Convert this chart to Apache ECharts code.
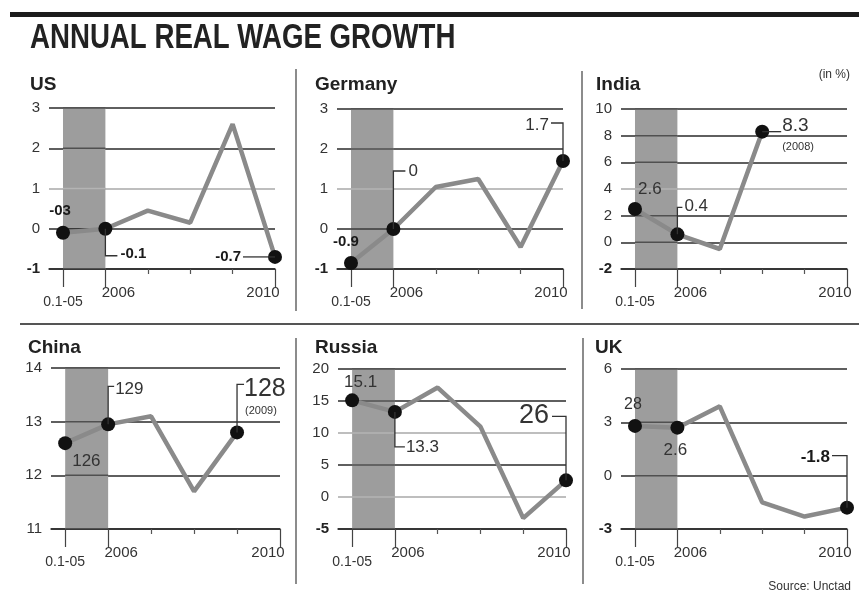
<!DOCTYPE html>
<html><head><meta charset="utf-8">
<script src="https://cdn.jsdelivr.net/npm/echarts@6/dist/echarts.min.js"></script>
<style>html,body{margin:0;padding:0;background:#fff}#c{width:859px;height:594px}</style>
</head><body><div id="c"></div>
<script>
// ---------- data ----------
const xLabels = ['0.1-05', '2006', '2007', '2008', '2009', '2010'];
const labelledTicks = [0, 1, 5];
const minorTicks = [2, 3, 4];
const shadedSpan = [0, 1];   // 2001-05 average .. 2006

const usValues      = [-0.1, 0.0, 0.45, 0.15, 2.6, -0.7];
const germanyValues = [-0.85, 0.0, 1.05, 1.25, -0.45, 1.7];
const indiaValues   = [2.5, 0.6, -0.5, 8.3, null, null];
const chinaValues   = [12.6, 12.95, 13.1, 11.7, 12.8, null];
const russiaValues  = [15.1, 13.3, 17.1, 11.0, -3.3, 2.6];
const ukValues      = [2.8, 2.7, 3.9, -1.5, -2.3, -1.8];

const usDots = [0, 1, 5];
const germanyDots = [0, 1, 5];
const indiaDots = [0, 1, 3];
const chinaDots = [0, 1, 4];
const russiaDots = [0, 1, 5];
const ukDots = [0, 1, 5];

const usNotes = ['-03', '-0.1', '-0.7'];
const germanyNotes = ['-0.9', '0', '1.7'];
const indiaNotes = ['2.6', '0.4', '8.3'];
const chinaNotes = ['126', '129', '128'];
const russiaNotes = ['15.1', '13.3', '26'];
const ukNotes = ['28', '2.6', '-1.8'];
const indiaSub = '(2008)';
const chinaSub = '(2009)';

const usAxis = {min: -1, max: 3, interval: 1};
const germanyAxis = {min: -1, max: 3, interval: 1};
const indiaAxis = {min: -2, max: 10, interval: 2};
const chinaAxis = {min: 11, max: 14, interval: 1};
const russiaAxis = {min: -5, max: 20, interval: 5};
const ukAxis = {min: -3, max: 6, interval: 3};

const panelTitles = ['US', 'Germany', 'India', 'China', 'Russia', 'UK'];

// ---------- layout / style (not data) ----------
const FONT = "'Liberation Sans', Arial, sans-serif";
const DARK = '#2a2a2a', LIGHT = '#a8a8a8', SHADE = '#9d9d9d';
const grids = [
  {left: 49, top: 108, width: 226, height: 161},
  {left: 337, top: 109, width: 226, height: 160},
  {left: 621, top: 109, width: 226, height: 160},
  {left: 51, top: 368, width: 229, height: 161},
  {left: 338, top: 369, width: 228, height: 160},
  {left: 621, top: 369, width: 226, height: 160}
];
const splitColors = [
  [DARK, DARK, LIGHT, DARK, DARK],
  [DARK, DARK, LIGHT, DARK, DARK],
  [DARK, DARK, DARK, LIGHT, DARK, DARK, DARK],
  [DARK, DARK, DARK, DARK],
  [DARK, LIGHT, DARK, LIGHT, DARK, DARK],
  [DARK, DARK, DARK, DARK]
];
const shadeLineColors = [
  ['#3a3a3a', '#3a3a3a', '#b4b4b4', '#505050', '#505050'],
  ['#3a3a3a', '#3a3a3a', '#b4b4b4', '#505050', '#505050'],
  ['#3a3a3a', '#505050', '#505050', '#b4b4b4', '#505050', '#505050', '#505050'],
  ['#3a3a3a', '#505050', '#505050', '#505050'],
  ['#3a3a3a', '#b4b4b4', '#505050', '#b4b4b4', '#505050', '#505050'],
  ['#3a3a3a', '#505050', '#505050', '#505050']
];
const noteLayouts = [
  [ {dx: -3, dy: -22, align: 'center', size: 15, bold: true},
    {dx: 15, dy: 25, align: 'left', size: 15, bold: true, path: [[0, 0], [0, 27], [12, 27]]},
    {dx: -34, dy: 0, align: 'right', size: 15, bold: true, path: [[0, 0], [-32, 0]]} ],
  [ {dx: -5, dy: -21, align: 'center', size: 15, bold: true},
    {dx: 15, dy: -58, align: 'left', size: 17, path: [[0, 0], [0, -58], [12, -58]]},
    {dx: -14, dy: -36, align: 'right', size: 17, path: [[0, 0], [0, -38], [-12, -38]]} ],
  [ {dx: 3, dy: -20, align: 'left', size: 17},
    {dx: 7, dy: -28, align: 'left', size: 17, path: [[0, 0], [0, -27], [5, -27]]},
    {dx: 20, dy: -6, align: 'left', size: 19, path: [[0, 0], [19, 0]], sub: {dx: 20, dy: 15, size: 11}} ],
  [ {dx: 7, dy: 18, align: 'left', size: 17},
    {dx: 7, dy: -35, align: 'left', size: 17, path: [[0, 0], [0, -38], [6, -38]]},
    {dx: 7, dy: -43, align: 'left', size: 25, path: [[0, 0], [0, -48], [7, -48]], sub: {dx: 8, dy: -21, size: 11}} ],
  [ {dx: -8, dy: -18, align: 'left', size: 17},
    {dx: 11, dy: 35, align: 'left', size: 17, path: [[0, 0], [0, 35], [10, 35]]},
    {dx: -17, dy: -65, align: 'right', size: 27, path: [[0, 0], [0, -64], [-14, -64]]} ],
  [ {dx: -2, dy: -21, align: 'center', size: 16},
    {dx: -2, dy: 23, align: 'center', size: 17},
    {dx: -17, dy: -50, align: 'right', size: 17, bold: true, path: [[0, 0], [0, -52], [-15, -52]]} ]
];

const panels = [
  {values: usValues, dots: usDots, notes: usNotes, axis: usAxis},
  {values: germanyValues, dots: germanyDots, notes: germanyNotes, axis: germanyAxis},
  {values: indiaValues, dots: indiaDots, notes: indiaNotes, axis: indiaAxis, sub: indiaSub},
  {values: chinaValues, dots: chinaDots, notes: chinaNotes, axis: chinaAxis, sub: chinaSub},
  {values: russiaValues, dots: russiaDots, notes: russiaNotes, axis: russiaAxis},
  {values: ukValues, dots: ukDots, notes: ukNotes, axis: ukAxis}
];

const option = {
  backgroundColor: '#fff',
  animation: false,
  textStyle: {fontFamily: FONT},
  grid: grids.map(g => Object.assign({containLabel: false}, g)),
  xAxis: [], yAxis: [], series: [],
  graphic: []
};

panels.forEach((p, k) => {
  option.xAxis.push({
    type: 'value', gridIndex: k, min: -0.33, max: 5, position: 'bottom',
    axisLine: {onZero: false, lineStyle: {color: DARK, width: 1.5}},
    axisTick: {show: true, customValues: labelledTicks, length: 18, lineStyle: {color: '#444', width: 1.2}},
    axisLabel: {
      customValues: labelledTicks, margin: 16, color: '#333', fontSize: 15, fontFamily: FONT,
      formatter: v => {
        const t = xLabels[Math.round(v)];
        if (v === 0) return '{a|' + t + '}';
        if (v === 1) return '{b|' + t + '}';
        return '{c|' + t + '}';
      },
      rich: {
        a: {fontSize: 14, padding: [10, 0, 0, 0], color: '#333', fontFamily: FONT},
        b: {fontSize: 15, padding: [0, 0, 0, 26], color: '#333', fontFamily: FONT},
        c: {fontSize: 15, padding: [0, 24, 0, 0], color: '#333', fontFamily: FONT}
      }
    },
    splitLine: {show: false}
  });
  option.xAxis.push({
    type: 'value', gridIndex: k, min: -0.33, max: 5, position: 'bottom', offset: 0,
    axisLine: {show: false, onZero: false},
    axisTick: {show: true, customValues: minorTicks, length: 5, lineStyle: {color: '#555', width: 1.2}},
    axisLabel: {show: false},
    splitLine: {show: false}
  });
  option.yAxis.push({
    type: 'value', gridIndex: k, min: p.axis.min, max: p.axis.max, interval: p.axis.interval,
    axisLine: {show: false}, axisTick: {show: false},
    axisLabel: {
      margin: 9, color: '#333', fontSize: 15, fontFamily: FONT,
      formatter: v => v < 0 ? '{n|' + v + '}' : String(v),
      rich: {n: {fontWeight: 'bold', fontSize: 15, color: '#222', fontFamily: FONT}}
    },
    splitLine: {show: true, lineStyle: {color: splitColors[k], width: 1.5}}
  });
  const xi = 2 * k;
  const data = p.values.map((v, i) => [i, v]).filter(d => d[1] !== null);
  // shaded band, with the grid lines redrawn across it
  const ax = p.axis, lineCols = shadeLineColors[k];
  option.series.push({
    type: 'custom', xAxisIndex: xi, yAxisIndex: k, z: 1, silent: true,
    data: [[shadedSpan[0], ax.min, shadedSpan[1], ax.max]],
    renderItem: (params, api) => {
      const a = api.coord([api.value(0), api.value(1)]);
      const b = api.coord([api.value(2), api.value(3)]);
      const children = [{type: 'rect', shape: {x: a[0], y: b[1], width: b[0] - a[0], height: a[1] - b[1]},
                         style: {fill: SHADE}}];
      let n = 0;
      for (let v = ax.min; v <= ax.max + 1e-9; v += ax.interval, n++) {
        const y = api.coord([api.value(0), v])[1];
        children.push({type: 'line', shape: {x1: a[0], y1: y, x2: b[0], y2: y},
                       style: {stroke: lineCols[n % lineCols.length], lineWidth: 1.5}});
      }
      return {type: 'group', children: children};
    }
  });
  option.series.push({
    type: 'line', xAxisIndex: xi, yAxisIndex: k, z: 3, data: data,
    lineStyle: {color: '#8a8a8a', width: 4.5},
    symbol: 'circle',
    symbolSize: (val, params) => p.dots.indexOf(params.dataIndex) >= 0 ? 14 : 0,
    itemStyle: {color: '#111'}
  });
  const lay = noteLayouts[k];
  option.series.push({
    type: 'custom', xAxisIndex: xi, yAxisIndex: k, z: 4, silent: true,
    data: p.dots.map(i => [i, p.values[i]]),
    renderItem: (params, api) => {
      const L = lay[params.dataIndex];
      const pt = api.coord([api.value(0), api.value(1)]);
      const children = [];
      if (L.path) {
        children.push({
          type: 'polyline',
          shape: {points: L.path.map(q => [pt[0] + q[0], pt[1] + q[1]])},
          style: {stroke: '#333', lineWidth: 1.3, fill: null}
        });
      }
      children.push({
        type: 'text',
        style: {
          text: p.notes[params.dataIndex], x: pt[0] + L.dx, y: pt[1] + L.dy,
          align: L.align, verticalAlign: 'middle',
          font: (L.bold ? 'bold ' : '') + L.size + 'px ' + FONT,
          fill: L.bold ? '#1a1a1a' : '#333'
        }
      });
      if (L.sub) {
        children.push({
          type: 'text',
          style: {
            text: p.sub, x: pt[0] + L.sub.dx, y: pt[1] + L.sub.dy,
            align: 'left', verticalAlign: 'middle',
            font: L.sub.size + 'px ' + FONT, fill: '#333'
          }
        });
      }
      return {type: 'group', children: children};
    }
  });
});

const titlePos = [[30, 85], [315, 85], [596, 85], [28, 348], [315, 348], [595, 348]];
option.graphic = [
  {type: 'rect', shape: {x: 10, y: 12, width: 849, height: 5}, style: {fill: '#1c1c1c'}},
  {type: 'text', x: 30, y: 38, scaleX: 0.79,
   style: {text: 'ANNUAL REAL WAGE GROWTH', font: 'bold 35px ' + FONT, fill: '#222', verticalAlign: 'middle'}},
  {type: 'line', shape: {x1: 20, y1: 324, x2: 859, y2: 324}, style: {stroke: '#555', lineWidth: 2}},
  {type: 'line', shape: {x1: 296, y1: 69, x2: 296, y2: 311}, style: {stroke: '#666', lineWidth: 1.5}},
  {type: 'line', shape: {x1: 582, y1: 71, x2: 582, y2: 309}, style: {stroke: '#666', lineWidth: 1.5}},
  {type: 'line', shape: {x1: 296, y1: 338, x2: 296, y2: 584}, style: {stroke: '#666', lineWidth: 1.5}},
  {type: 'line', shape: {x1: 583, y1: 338, x2: 583, y2: 584}, style: {stroke: '#666', lineWidth: 1.5}},
  {type: 'text', style: {text: '(in %)', x: 850, y: 75, align: 'right', verticalAlign: 'middle', font: '12px ' + FONT, fill: '#333'}},
  {type: 'text', style: {text: 'Source: Unctad', x: 851, y: 587, align: 'right', verticalAlign: 'middle', font: '12px ' + FONT, fill: '#333'}}
].concat(panelTitles.map((t, i) => ({
  type: 'text',
  style: {text: t, x: titlePos[i][0], y: titlePos[i][1], verticalAlign: 'middle', font: 'bold 19px ' + FONT, fill: '#222'}
})));

const chart = echarts.init(document.getElementById('c'), null, {renderer: 'canvas'});
chart.setOption(option);
</script>
</body></html>
